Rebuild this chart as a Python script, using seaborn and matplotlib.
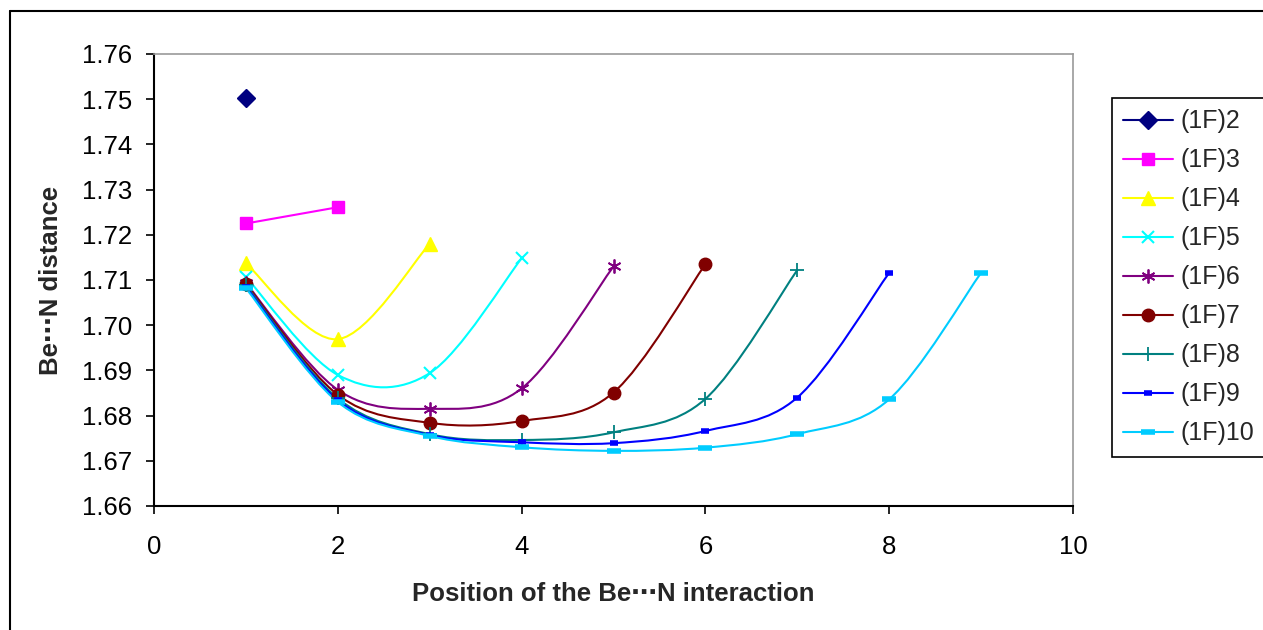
import numpy as np
import pandas as pd
import seaborn as sns
import matplotlib.pyplot as plt
from matplotlib.path import Path
from matplotlib.patches import PathPatch
from matplotlib.lines import Line2D

# Be...N distance for each (1F)n chain, one value per position 1..n-1
f2 = [1.7502]
f3 = [1.7225, 1.7261]
f4 = [1.7137, 1.6969, 1.7180]
f5 = [1.7107, 1.6890, 1.6894, 1.7148]
f6 = [1.7093, 1.6857, 1.6815, 1.6860, 1.7130]
f7 = [1.7091, 1.6846, 1.6784, 1.6788, 1.6851, 1.7135]
f8 = [1.7088, 1.6838, 1.6759, 1.6746, 1.6763, 1.6837, 1.7122]
f9 = [1.7085, 1.6834, 1.6757, 1.6741, 1.6739, 1.6766, 1.6840, 1.7116]
f10 = [1.7082, 1.6830, 1.6755, 1.6730, 1.6722, 1.6729, 1.6759, 1.6836, 1.7116]

labels = ["(1F)2", "(1F)3", "(1F)4", "(1F)5", "(1F)6", "(1F)7", "(1F)8", "(1F)9", "(1F)10"]
series = [f2, f3, f4, f5, f6, f7, f8, f9, f10]

colors = ["#000080", "#FF00FF", "#FFFF00", "#00FFFF", "#800080",
          "#800000", "#008080", "#0000FF", "#00CCFF"]
markers = ["D", "s", "^", "x", (6, 2, 0), "o", "+", "_", "_"]
msizes = [9, 9, 10, 8, 10, 9, 10, 6, 10]
mews = [1, 1, 1, 1.5, 1.3, 1, 1.3, 4, 4]


def smooth_path(xs, ys):
    # Excel-style smoothed line: cubic Bezier, Catmull-Rom control points
    pts = np.column_stack([xs, ys])
    n = len(pts)
    verts = [pts[0]]
    codes = [Path.MOVETO]
    for i in range(n - 1):
        p0 = pts[max(i - 1, 0)]
        p1 = pts[i]
        p2 = pts[i + 1]
        p3 = pts[min(i + 2, n - 1)]
        c1 = p1 + (p2 - p0) / 6.0
        c2 = p2 - (p3 - p1) / 6.0
        verts += [c1, c2, p2]
        codes += [Path.CURVE4] * 3
    return Path(verts, codes)


sns.set_theme(style="white")
plt.rcParams['font.family'] = ['Liberation Sans', 'DejaVu Sans']

fig = plt.figure(figsize=(12.63, 6.30), dpi=100)
ax = fig.add_axes([154 / 1263, 1 - 506 / 630, 919 / 1263, 452 / 630])

handles = []
for lab, vals, col, mk, ms, mew in zip(labels, series, colors, markers, msizes, mews):
    df = pd.DataFrame({"pos": np.arange(1, len(vals) + 1), "dist": vals})
    if len(vals) > 1:
        ax.add_patch(PathPatch(smooth_path(df["pos"].values, df["dist"].values),
                               fill=False, edgecolor=col, lw=1.5, zorder=2))
    sns.lineplot(data=df, x="pos", y="dist", ax=ax, sort=False, estimator=None,
                 linestyle="", marker=mk, markersize=ms, markeredgewidth=mew,
                 color=col, markerfacecolor=col, markeredgecolor=col, zorder=3)
    handles.append(Line2D([], [], color=col, lw=1.5, marker=mk, markersize=ms,
                          markeredgewidth=mew, markerfacecolor=col, markeredgecolor=col))

ax.set_xlim(0, 10)
ax.set_ylim(1.66, 1.76)
ax.set_xticks(np.arange(0, 11, 2))
ax.set_yticks(np.arange(1.66, 1.7601, 0.01))
ax.set_yticklabels([f"{v:.2f}" for v in np.arange(1.66, 1.7601, 0.01)])
ax.tick_params(axis="both", which="major", labelsize=18.5, colors="black",
               direction="out", length=6, width=1.2, left=True, bottom=True)
ax.tick_params(axis="y", pad=10)
ax.tick_params(axis="x", pad=15)

for side in ["left", "bottom"]:
    ax.spines[side].set_color("black")
    ax.spines[side].set_linewidth(1.5)
for side in ["top", "right"]:
    ax.spines[side].set_color("#999999")
    ax.spines[side].set_linewidth(1.2)

ax.set_xlabel("Position of the Be\u22efN interaction", fontsize=18.5, fontweight="bold")
ax.set_ylabel("Be\u22efN distance", fontsize=18.5, fontweight="bold")
ax.xaxis.set_label_coords(0.5, -0.168)
ax.yaxis.set_label_coords(-0.099, 0.5)

leg = fig.legend(handles, labels, loc="upper left",
                 bbox_to_anchor=(1112 / 1263, 1 - 98 / 630), fontsize=18,
                 frameon=True, fancybox=False, edgecolor="black", framealpha=1,
                 borderaxespad=0, handlelength=2.0, handletextpad=0.27,
                 labelspacing=0.6, borderpad=0.45)
leg.get_frame().set_linewidth(1.2)

# outer chart border
fig.add_artist(Line2D([10 / 1263, 10 / 1263], [0, 1 - 11 / 630], color="black", lw=1.5))
fig.add_artist(Line2D([10 / 1263, 1], [1 - 11 / 630, 1 - 11 / 630], color="black", lw=1.5))

fig.savefig("out.png", dpi=100, facecolor="white")
